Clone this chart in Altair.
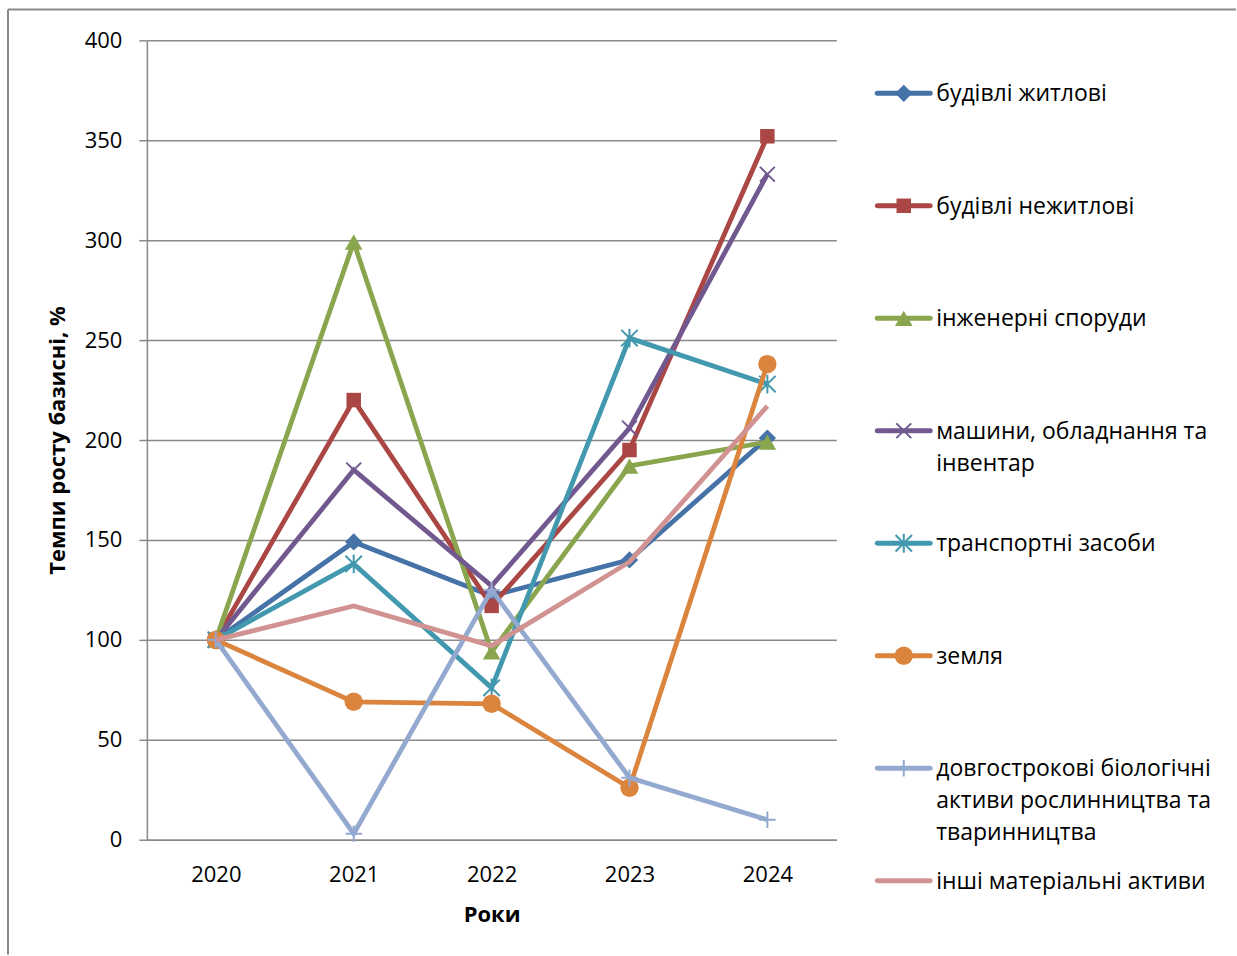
import altair as alt
import pandas as pd

# --- data -------------------------------------------------------------
years = ["2020", "2021", "2022", "2023", "2024"]

series_names = [
    "будівлі житлові",
    "будівлі нежитлові",
    "інженерні споруди",
    "машини, обладнання та інвентар",
    "транспортні засоби",
    "земля",
    "довгострокові біологічні активи рослинництва та тваринництва",
    "інші матеріальні активи",
]
legend_lines = [
    "будівлі житлові",
    "будівлі нежитлові",
    "інженерні споруди",
    "машини, обладнання та\nінвентар",
    "транспортні засоби",
    "земля",
    "довгострокові біологічні\nактиви рослинництва та\nтваринництва",
    "інші матеріальні активи",
]

residential = [100, 149, 122, 140, 201]
non_residential = [100, 220, 117, 195, 352]
engineering = [100, 299, 94, 187, 199]
machinery = [100, 185, 127, 206, 333]
transport = [100, 138, 76, 251, 228]
land = [100, 69, 68, 26, 238]
biological = [100, 3, 125, 31, 10]
other_assets = [100, 117, 97, 139, 217]

values = [residential, non_residential, engineering, machinery,
          transport, land, biological, other_assets]

# --- styling ----------------------------------------------------------
colors = ["#4572A7", "#AA4643", "#89A54E", "#71588F",
          "#4198AF", "#DB843D", "#93A9CF", "#D19392"]
X_PATH = "M-1,-1L1,1M-1,1L1,-1"
STAR_PATH = "M-1,-1L1,1M-1,1L1,-1M0,-1.15L0,1.15"
PLUS_PATH = "M-1,0L1,0M0,-1L0,1"
shapes = ["diamond", "square", "triangle-up", X_PATH, STAR_PATH, "circle", PLUS_PATH, None]
filled = [True, True, True, False, False, True, False, False]
sizes = [300, 210, 310, 220, 270, 340, 270, 0]
FONT = "Open Sans"
GRID = "#898989"

# --- main plot --------------------------------------------------------
rows = []
for name, vals in zip(series_names, values):
    for yr, v in zip(years, vals):
        rows.append({"series": name, "year": yr, "value": v})
df = pd.DataFrame(rows)

x_enc = alt.X("year:O", title="Роки",
              scale=alt.Scale(type="point", padding=0.5),
              axis=alt.Axis(labelAngle=0, ticks=False, labelPadding=25,
                            titlePadding=19, domainColor=GRID, domainWidth=1.5,
                            grid=False))
y_enc = alt.Y("value:Q", title="Темпи росту базисні, %",
              scale=alt.Scale(domain=[0, 400], nice=False),
              axis=alt.Axis(values=list(range(0, 401, 50)), tickSize=8,
                            tickColor=GRID, tickWidth=1.5, labelPadding=17,
                            titlePadding=15, domainColor=GRID, domainWidth=1.5,
                            gridColor=GRID, gridWidth=1.5))

layers = []
for i, name in enumerate(series_names):
    sub = df[df["series"] == name]
    base = alt.Chart(sub)
    layers.append(base.mark_line(strokeWidth=4.8, color=colors[i]).encode(x=x_enc, y=y_enc))
    if shapes[i] is not None:
        if filled[i]:
            pt = base.mark_point(filled=True, shape=shapes[i], size=sizes[i],
                                 color=colors[i], opacity=1)
        else:
            pt = base.mark_point(filled=False, shape=shapes[i], size=sizes[i],
                                 color=colors[i], strokeWidth=2, opacity=1)
        layers.append(pt.encode(x=x_enc, y=y_enc))

# outer chart-area frame (left and top edges)
frame = alt.Chart(pd.DataFrame({"k": [0]}))
frame_left = frame.mark_rule(color=GRID, strokeWidth=2).encode(
    x=alt.value(-139), y=alt.value(-31), y2=alt.value(915))
frame_top = frame.mark_rule(color=GRID, strokeWidth=2).encode(
    x=alt.value(-139), x2=alt.value(1090), y=alt.value(-31))

main = alt.layer(frame_left, frame_top, *layers).properties(width=690, height=800)

# --- legend panel -----------------------------------------------------
leg = pd.DataFrame({
    "idx": list(range(len(series_names))),
    "label": legend_lines,
    "color": colors,
    "shape": [s if s is not None else "circle" for s in shapes],
    "filled": filled,
    "size": sizes,
})
step = 112.57
leg_scale = alt.Scale(domain=[-53 / step, -53 / step + 900 / step], nice=False,
                      zero=False, reverse=True)
y_leg = alt.Y("idx:Q", scale=leg_scale, axis=None)
lbase = alt.Chart(leg)
leg_line = lbase.mark_rule(strokeWidth=5, strokeCap="round").encode(
    x=alt.value(0), x2=alt.value(53), y=y_leg,
    color=alt.Color("color:N", scale=None))
leg_filled = lbase.transform_filter("datum.filled && datum.size > 0").mark_point(
    filled=True, opacity=1).encode(
    x=alt.value(26.5), y=y_leg,
    color=alt.Color("color:N", scale=None),
    shape=alt.Shape("shape:N", scale=None),
    size=alt.Size("size:Q", scale=None))
leg_stroked = lbase.transform_filter("!datum.filled && datum.size > 0").mark_point(
    filled=False, strokeWidth=2, opacity=1).encode(
    x=alt.value(26.5), y=y_leg,
    color=alt.Color("color:N", scale=None),
    shape=alt.Shape("shape:N", scale=None),
    size=alt.Size("size:Q", scale=None))
leg_text = lbase.mark_text(align="left", baseline="top", dy=-10, fontSize=23,
                           font=FONT, lineBreak="\n", lineHeight=32,
                           color="black").encode(
    x=alt.value(59), y=y_leg, text="label:N")
legend_panel = alt.layer(leg_line, leg_filled, leg_stroked, leg_text).properties(
    width=300, height=900)

chart = alt.hconcat(main, legend_panel, spacing=41, bounds="flush").properties(
    padding={"left": 7, "top": 8, "right": 0, "bottom": 0},
    background="white",
).configure_view(stroke=None).configure_axis(
    labelFont=FONT, titleFont=FONT, labelFontSize=22, titleFontSize=22,
    labelColor="black", titleColor="black", titleFontWeight="bold",
)

chart.save("out.html", embed_options={"renderer": "svg", "actions": False})
